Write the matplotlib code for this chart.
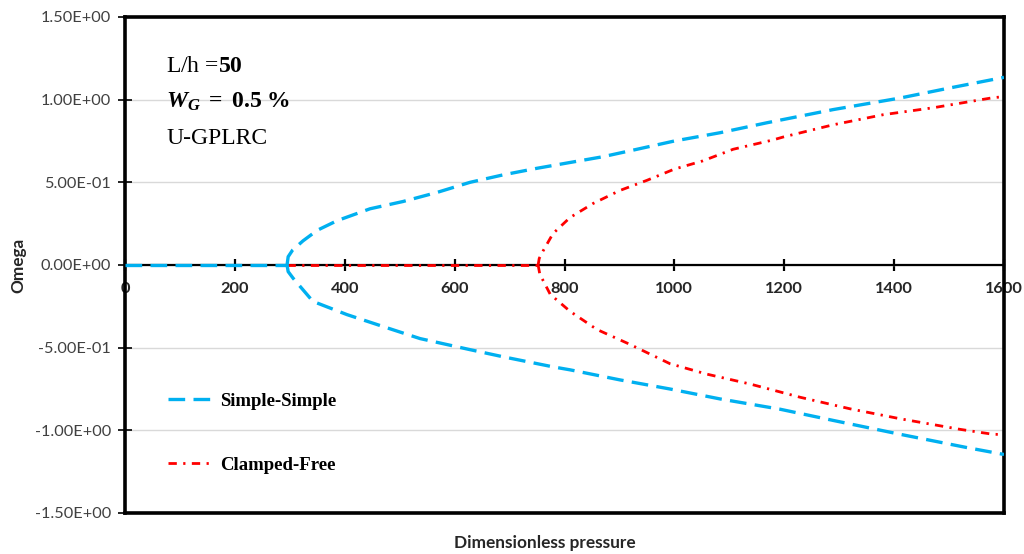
import matplotlib
matplotlib.use("Agg")
import matplotlib.pyplot as plt
from matplotlib.ticker import FuncFormatter

# ---------------- data ----------------
# Simple-Simple: trivial branch along zero, then upper / lower branches
ss_zero_p = [0, 295]
ss_zero_w = [0.0, 0.0]
ss_up_p = [295, 297, 305, 324, 350, 386, 446, 506, 568, 628, 688, 750, 810, 870, 932,
           1000, 1083, 1168, 1289, 1411, 1500, 1600]
ss_up_w = [0.0, 0.05, 0.09, 0.146, 0.21, 0.268, 0.34, 0.384, 0.439, 0.50, 0.545, 0.585,
           0.62, 0.655, 0.70, 0.75, 0.80, 0.86, 0.94, 1.01, 1.07, 1.135]
ss_lo_p = [295, 297, 306, 342, 404, 477, 537, 628, 688, 779, 810, 901, 992, 1083,
           1192, 1289, 1411, 1532, 1600]
ss_lo_w = [0.0, -0.04, -0.08, -0.22, -0.30, -0.38, -0.445, -0.512, -0.555, -0.616, -0.634,
           -0.695, -0.75, -0.81, -0.872, -0.94, -1.024, -1.104, -1.146]

# Clamped-Free
cf_zero_p = [295, 752]
cf_zero_w = [0.0, 0.0]
cf_up_p = [752, 754, 761, 779, 810, 852, 901, 950, 1000, 1052, 1107, 1179, 1198, 1289,
           1380, 1471, 1580, 1600]
cf_up_w = [0.0, 0.04, 0.085, 0.19, 0.287, 0.372, 0.451, 0.512, 0.58, 0.63, 0.70, 0.756,
           0.774, 0.848, 0.909, 0.951, 1.012, 1.018]
cf_lo_p = [752, 755, 774, 810, 859, 919, 992, 1059, 1138, 1229, 1320, 1411, 1520, 1580, 1600]
cf_lo_w = [0.0, -0.055, -0.177, -0.28, -0.39, -0.48, -0.597, -0.66, -0.72, -0.80, -0.87,
           -0.93, -0.994, -1.024, -1.025]

x_ticks = [0, 200, 400, 600, 800, 1000, 1200, 1400, 1600]
y_ticks = [-1.5, -1.0, -0.5, 0.0, 0.5, 1.0, 1.5]

series_labels = ["Simple-Simple", "Clamped-Free"]
annot_lines = ["L/h =$\\mathbf{50}$",
               "$\\mathbfit{W}_{\\mathbfit{G}}\\ \\mathbf{=\\ 0.5\\ \\%}$",
               "U-GPLRC"]
x_title = "Dimensionless pressure"
y_title = "Omega"

# ---------------- styling ----------------
plt.rcParams['mathtext.fontset'] = 'custom'
plt.rcParams['mathtext.rm'] = 'Liberation Serif'
plt.rcParams['mathtext.bf'] = 'Liberation Serif:bold'
plt.rcParams['mathtext.it'] = 'Liberation Serif:italic'
plt.rcParams['mathtext.bfit'] = 'Liberation Serif:italic:bold'

BLUE = '#00B0F0'
RED = '#FF0000'
ss_style = dict(color=BLUE, lw=2.4, linestyle=(0, (5.0, 2.5)), zorder=4)
cf_style = dict(color=RED, lw=2.0, linestyle=(0, (3.0, 2.3, 0.8, 2.3)), zorder=3)

fig = plt.figure(figsize=(10.24, 5.54), dpi=100)
ax = fig.add_axes([125 / 1024, 1 - 513 / 554, 879 / 1024, 496 / 554])

ax.set_xlim(0, 1600)
ax.set_ylim(-1.5, 1.5)

# curves
ax.plot(cf_zero_p, cf_zero_w, **cf_style)
ax.plot(cf_up_p, cf_up_w, label=series_labels[1], **cf_style)
ax.plot(cf_lo_p, cf_lo_w, **cf_style)
ax.plot(ss_zero_p, ss_zero_w, **ss_style)
ax.plot(ss_up_p, ss_up_w, label=series_labels[0], **ss_style)
ax.plot(ss_lo_p, ss_lo_w, **ss_style)

# grid
ax.set_yticks(y_ticks)
ax.set_xticks(x_ticks)
ax.yaxis.grid(True, color='#D9D9D9', lw=1.0)
ax.set_axisbelow(True)

# spines
for s in ['left', 'top', 'right']:
    ax.spines[s].set_linewidth(2.6)
    ax.spines[s].set_color('black')
ax.spines['bottom'].set_position(('data', 0))
ax.spines['bottom'].set_linewidth(1.6)
ax.spines['bottom'].set_zorder(2.5)
ax.axhline(-1.5, color='black', lw=2.6, clip_on=False, zorder=5)

# ticks
ax.yaxis.set_major_formatter(FuncFormatter(lambda v, p: f"{v:.2E}"))
ax.tick_params(axis='y', direction='inout', length=10, width=1.2, pad=5,
               labelsize=11.7, colors='black')
ax.tick_params(axis='x', direction='inout', length=9, width=1.6, pad=8,
               labelsize=11.8, colors='black')
for lab in ax.get_yticklabels():
    lab.set_fontfamily('Lato')
    lab.set_color('#404040')
for lab in ax.get_xticklabels():
    lab.set_fontfamily('Lato')
    lab.set_fontweight('bold')
    lab.set_color('#262626')

# axis titles
fig.text(545 / 1024, 1 - 543 / 554, x_title, ha='center', va='center',
         fontsize=12.4, fontweight='bold', family='Lato', color='#262626')
fig.text(18 / 1024, 1 - 265 / 554, y_title, ha='center', va='center', rotation=90,
         fontsize=12.4, fontweight='bold', family='Lato', color='#262626')

# annotation
ann_y = [66, 102, 139]
for txt, yy in zip(annot_lines, ann_y):
    fig.text(166 / 1024, 1 - yy / 554, txt, ha='left', va='center', fontsize=17,
             family='Liberation Serif', color='black')

# legend
handles, labels = ax.get_legend_handles_labels()
order = [labels.index(series_labels[0]), labels.index(series_labels[1])]
leg = ax.legend([handles[i] for i in order], [labels[i] for i in order],
                loc='center left', bbox_to_anchor=(0.049, 0.161), frameon=False,
                prop={'family': 'Liberation Serif', 'weight': 'bold', 'size': 13.5},
                labelspacing=2.5, handlelength=2.4, handletextpad=0.35,
                borderpad=0, borderaxespad=0)

fig.savefig('out.png', dpi=100)
